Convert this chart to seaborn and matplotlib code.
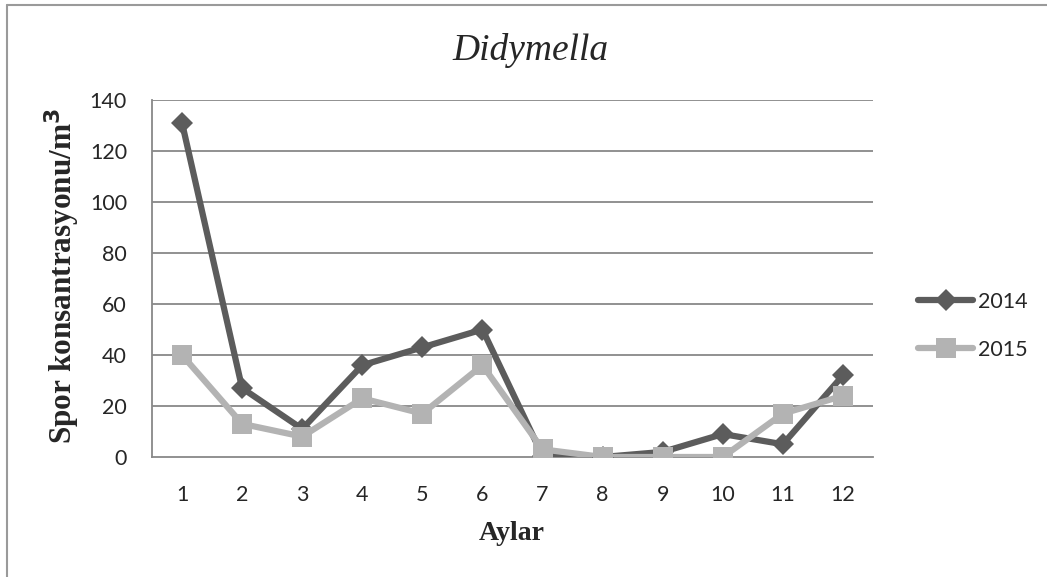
import matplotlib
matplotlib.use("Agg")
import matplotlib.pyplot as plt
from matplotlib.lines import Line2D
import seaborn as sns
import pandas as pd

# Monthly spore concentrations (spores/m3)
months = list(range(1, 13))
spores_2014 = [131, 27, 11, 36, 43, 50, 0.5, 0, 2, 9, 5, 32]
spores_2015 = [40, 13, 8, 23, 17, 36, 3, 0, 0, 0, 17, 24]
years = ["2014", "2015"]
yticks = [0, 20, 40, 60, 80, 100, 120, 140]

df = pd.DataFrame({
    "Ay": months * 2,
    "Spor": spores_2014 + spores_2015,
    "Yıl": [years[0]] * 12 + [years[1]] * 12,
})

sns.set_style("white")
plt.rcParams["font.family"] = ["Lato", "DejaVu Sans"]

W, H = 1047, 577
fig = plt.figure(figsize=(W / 100, H / 100), dpi=100)
ax = fig.add_axes([152 / W, 1 - 457 / H, (873 - 152) / W, (457 - 100) / H])

grid_c = "#888888"
for yv in yticks[1:]:
    ax.axhline(yv, color=grid_c, lw=1.3, zorder=0)

styles = {
    "2014": dict(color="#5c5c5c", marker="D", markersize=11),
    "2015": dict(color="#b3b3b3", marker="s", markersize=15),
}
for yr in years:
    sub = df[df["Yıl"] == yr]
    st = styles[yr]
    sns.lineplot(data=sub, x="Ay", y="Spor", ax=ax, color=st["color"], lw=4.5,
                 marker=st["marker"], markersize=st["markersize"],
                 markeredgewidth=0, label=yr, zorder=3)

ax.set_xlim(0.5, 12.5)
ax.set_ylim(0, 140)
ax.set_xticks(months)
ax.set_yticks(yticks)
ax.tick_params(axis="x", length=0, labelsize=15.5, pad=20)
ax.tick_params(axis="y", length=7, width=1.3, color=grid_c, labelsize=15.5, pad=11)
for s in ["top", "right"]:
    ax.spines[s].set_visible(False)
for s in ["left", "bottom"]:
    ax.spines[s].set_color(grid_c)
    ax.spines[s].set_linewidth(1.3)
ax.set_xlabel("")
ax.set_ylabel("")

fig.text(512 / W, 1 - 533 / H, "Aylar", ha="center", va="center",
         family="Liberation Serif", fontweight="bold", fontsize=20)
fig.text(62 / W, 1 - 276 / H, "Spor konsantrasyonu/m$\\mathbf{^3}$", ha="center",
         va="center", rotation=90, family="Liberation Serif",
         fontweight="bold", fontsize=22.5)
fig.text(530 / W, 1 - 50 / H, "Didymella", ha="center", va="center",
         family="Liberation Serif", style="italic", fontsize=27)

leg = ax.legend(loc="center left", bbox_to_anchor=(899 / W, 1 - 326 / H),
                bbox_transform=fig.transFigure, frameon=False, fontsize=15.5,
                handlelength=2.55, handletextpad=0.2, labelspacing=1.3)

# chart border
fig.add_artist(Line2D([7 / W, 7 / W], [0, 1 - 5 / H], color="#9a9a9a", lw=1.5,
                      transform=fig.transFigure))
fig.add_artist(Line2D([7 / W, 1], [1 - 5 / H, 1 - 5 / H], color="#9a9a9a", lw=1.5,
                      transform=fig.transFigure))

fig.savefig("out.png", dpi=100)
